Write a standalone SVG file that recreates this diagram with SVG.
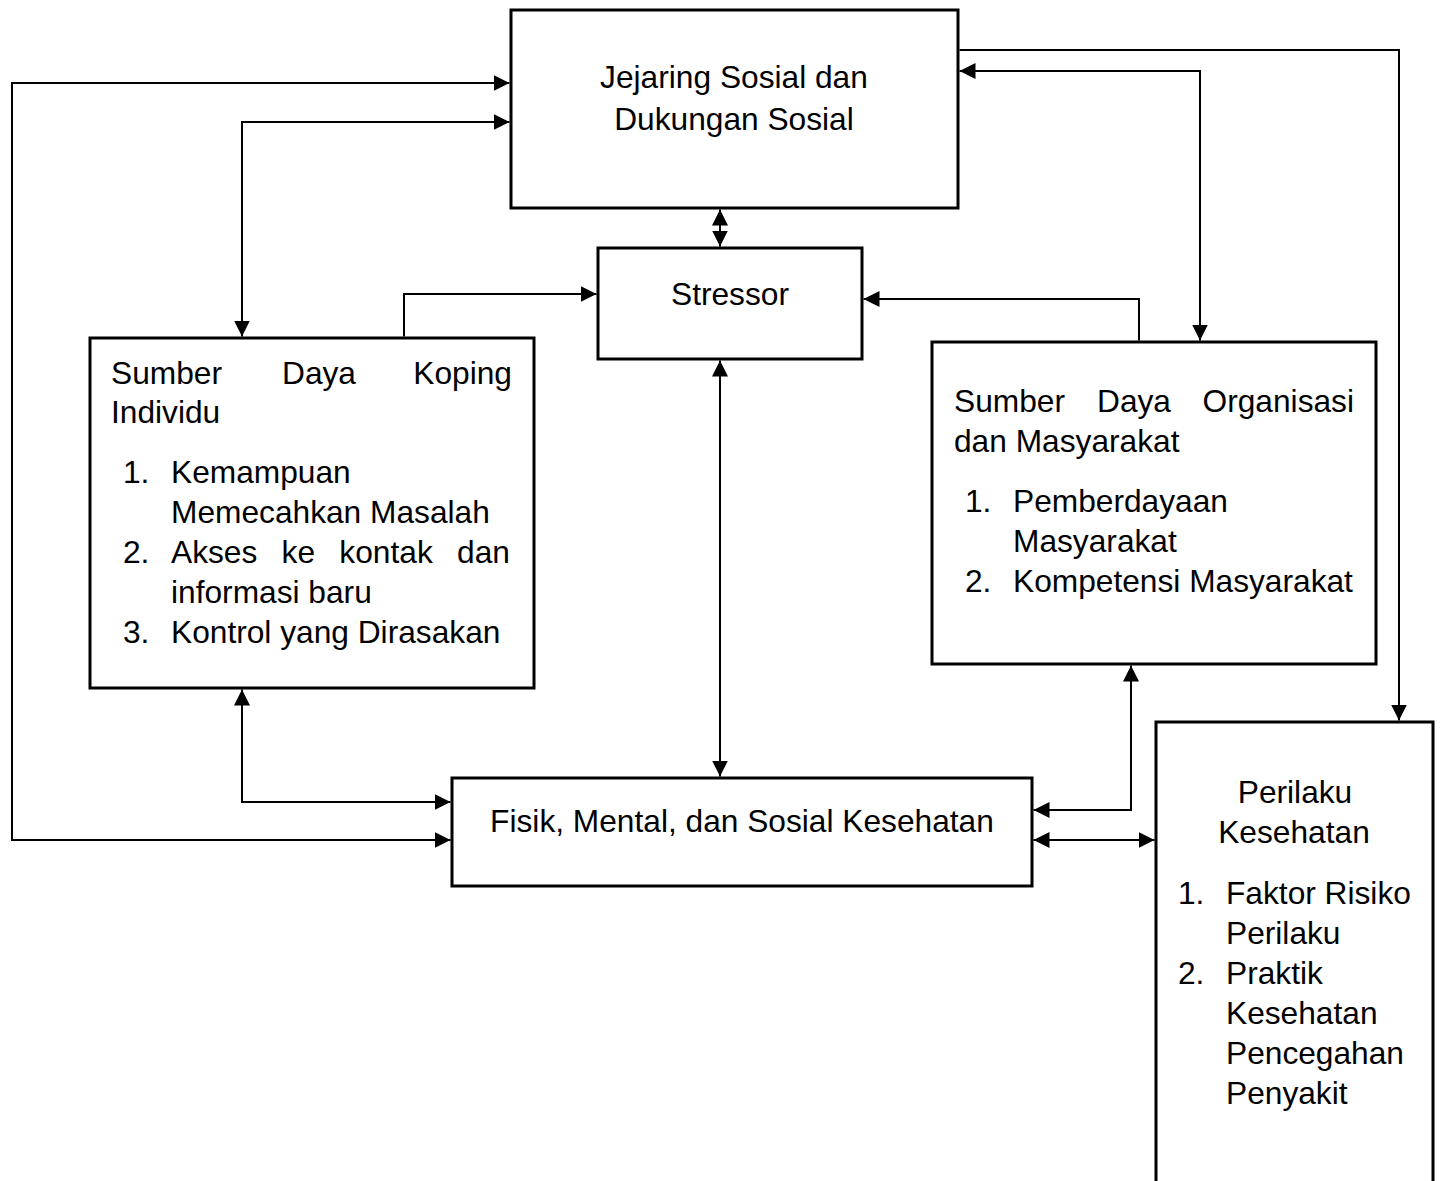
<svg xmlns="http://www.w3.org/2000/svg" width="1442" height="1181" viewBox="0 0 1442 1181">
<style>
.box{fill:#fff;stroke:#000;stroke-width:3}
.c{fill:none;stroke:#000;stroke-width:2}
text{font-family:"Liberation Sans",Arial,sans-serif;font-size:31.7px;fill:#000}
.m{text-anchor:middle}
.e{text-anchor:end}
</style>
<defs>
<marker id="ah" viewBox="0 0 16 16" refX="16" refY="8" markerWidth="16" markerHeight="16" markerUnits="userSpaceOnUse" orient="auto-start-reverse">
<path d="M0,0 L16,8 L0,16 z" fill="#000"/>
</marker>
</defs>
<rect width="1442" height="1181" fill="#fff"/>
<g id="connectors">
<path class="c" d="M450.5,840 H12 V83 H509.5" marker-start="url(#ah)" marker-end="url(#ah)"/>
<path class="c" d="M242,336.5 V122 H509.5" marker-start="url(#ah)" marker-end="url(#ah)"/>
<path class="c" d="M242,689.5 V802 H450.5" marker-start="url(#ah)" marker-end="url(#ah)"/>
<path class="c" d="M404,336.5 V294 H596.5" marker-end="url(#ah)"/>
<path class="c" d="M720,209.5 V246.5" marker-start="url(#ah)" marker-end="url(#ah)"/>
<path class="c" d="M720,360.5 V776.5" marker-start="url(#ah)" marker-end="url(#ah)"/>
<path class="c" d="M1139,340.5 V299 H863.5" marker-end="url(#ah)"/>
<path class="c" d="M959.5,71 H1200 V340.5" marker-start="url(#ah)" marker-end="url(#ah)"/>
<path class="c" d="M959.5,50 H1399 V720.5" marker-end="url(#ah)"/>
<path class="c" d="M1131,665.5 V810 H1033.5" marker-start="url(#ah)" marker-end="url(#ah)"/>
<path class="c" d="M1033.5,840 H1154.5" marker-start="url(#ah)" marker-end="url(#ah)"/>
</g>
<g id="jejaring">
<rect class="box" x="511" y="10" width="447" height="198"/>
<text class="m" x="734" y="88">Jejaring Sosial dan</text>
<text class="m" x="734" y="130">Dukungan Sosial</text>
</g>
<g id="stressor">
<rect class="box" x="598" y="248" width="264" height="111"/>
<text class="m" x="730" y="305">Stressor</text>
</g>
<g id="koping">
<rect class="box" x="90" y="338" width="444" height="350"/>
<text x="111" y="384">Sumber</text>
<text x="282" y="384">Daya</text>
<text class="e" x="512" y="384">Koping</text>
<text x="111" y="423">Individu</text>
<text x="123" y="483">1.</text>
<text x="171" y="483">Kemampuan</text>
<text x="171" y="523">Memecahkan Masalah</text>
<text x="123" y="563">2.</text>
<text x="171" y="563" word-spacing="15.5">Akses ke kontak dan</text>
<text x="171" y="603">informasi baru</text>
<text x="123" y="643">3.</text>
<text x="171" y="643">Kontrol yang Dirasakan</text>
</g>
<g id="organisasi">
<rect class="box" x="932" y="342" width="444" height="322"/>
<text x="954" y="412">Sumber</text>
<text x="1097" y="412">Daya</text>
<text class="e" x="1354" y="412">Organisasi</text>
<text x="954" y="452">dan Masyarakat</text>
<text x="965" y="512">1.</text>
<text x="1013" y="512">Pemberdayaan</text>
<text x="1013" y="552">Masyarakat</text>
<text x="965" y="592">2.</text>
<text x="1013" y="592">Kompetensi Masyarakat</text>
</g>
<g id="fisik">
<rect class="box" x="452" y="778" width="580" height="108"/>
<text class="m" x="742" y="832">Fisik, Mental, dan Sosial Kesehatan</text>
</g>
<g id="perilaku">
<path class="box" d="M1156,1184 V722 H1433 V1184"/>
<text class="m" x="1295" y="803">Perilaku</text>
<text class="m" x="1294" y="843">Kesehatan</text>
<text x="1178" y="904">1.</text>
<text x="1226" y="904">Faktor Risiko</text>
<text x="1226" y="944">Perilaku</text>
<text x="1178" y="984">2.</text>
<text x="1226" y="984">Praktik</text>
<text x="1226" y="1024">Kesehatan</text>
<text x="1226" y="1064">Pencegahan</text>
<text x="1226" y="1104">Penyakit</text>
</g>
</svg>
